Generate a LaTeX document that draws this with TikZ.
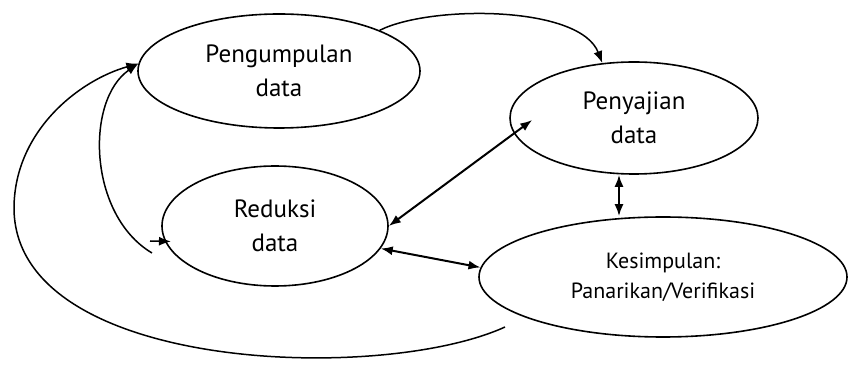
\documentclass[tikz,border=0pt]{standalone}
\usepackage{fontspec}
\setmainfont{PT Sans}
\usetikzlibrary{shapes.geometric,arrows.meta}
\begin{document}
\begin{tikzpicture}[x=1pt,y=1pt,
  blob/.style={ellipse,draw,line width=1.6pt,inner sep=0pt,align=center,
    font=\fontsize{25}{34}\selectfont},
  arr/.style={line width=1.5pt,-{Latex[length=12pt,width=9pt]}},
  dbl/.style={line width=2pt,{Latex[length=12pt,width=9pt]}-{Latex[length=12pt,width=9pt]}}]
\useasboundingbox (0,0) rectangle (852,372);
\node[blob,minimum width=282pt,minimum height=114pt] (pd) at (279,301) {Pengumpulan\\data};
\node[blob,minimum width=226pt,minimum height=120pt] (rd) at (275,146) {Reduksi\\data};
\node[blob,minimum width=248pt,minimum height=112pt] (sd) at (634,254) {Penyajian\\data};
\node[blob,minimum width=368pt,minimum height=120pt,font=\fontsize{22}{30}\selectfont] (kd) at (663,95) {Kesimpulan:\\Panarikan/Verifikasi};
\coordinate (innerend) at (152,119);
\coordinate (outerend) at (505,45);
\coordinate (stub) at (150,131);
% collection -> display
\draw[arr] (pd.22) .. controls (430,367) and (580,367) .. (sd.120);
% inner loop to collection
\draw[arr] (innerend) .. controls (88,157) and (85,272) .. (pd.177);
% outer loop to collection
\draw[arr] (outerend) .. controls (380,-12) and (13,0) .. (14,165)
  .. controls (15,242) and (80,292) .. (pd.177);
% stub into reduction
\draw[arr] (stub) -- ([xshift=6pt]rd.188);
% two-way arrows
\draw[dbl] (rd.0) -- ([shift={(23pt,-2pt)}]sd.west);
\draw[dbl] (rd.-12) -- (kd.177);
\draw[dbl] ([xshift=-15pt]sd.south) -- ([xshift=-15pt]sd.south |- kd.north);
\end{tikzpicture}
\end{document}
